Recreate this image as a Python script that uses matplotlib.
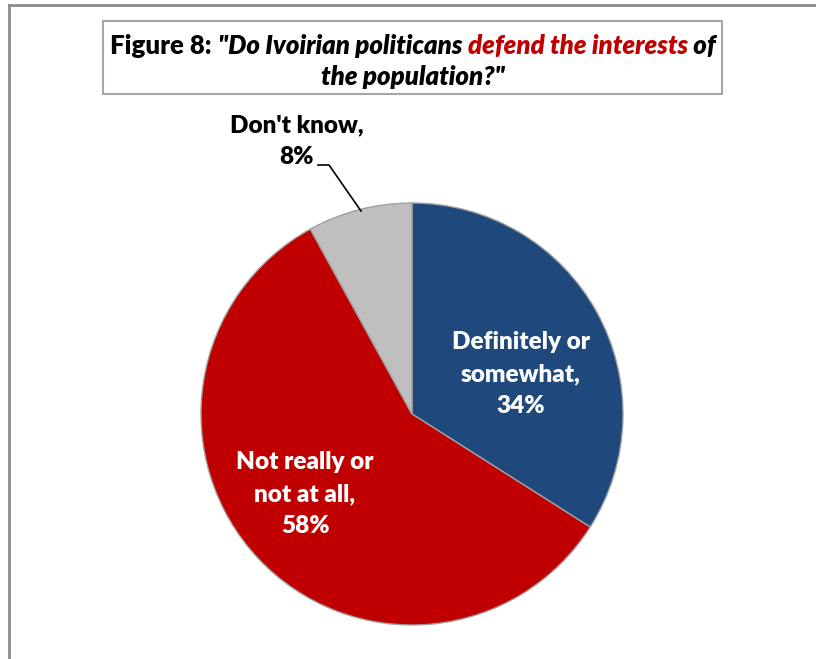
import matplotlib.pyplot as plt
from matplotlib.patches import Rectangle
from matplotlib.lines import Line2D

plt.rcParams['font.family'] = ['Lato', 'DejaVu Sans']

labels = ["Definitely or\nsomewhat,\n34%", "Not really or\nnot at all,\n58%", "Don't know,\n8%"]
values = [34, 58, 8]
colors = ['#1f497d', '#c00000', '#bfbfbf']

W, H = 816, 659
fig = plt.figure(figsize=(W / 100, H / 100), dpi=100)


def fx(px):
    return px / W


def fy(py):
    return 1 - py / H


# outer chart border (right and bottom edges run off the image)
fig.add_artist(Line2D([fx(9), fx(9)], [fy(5), 0], color='#8c8c8c', lw=2))
fig.add_artist(Line2D([fx(9), 1], [fy(5), fy(5)], color='#8c8c8c', lw=2))

# pie
cx, cy, r = 412, 414, 211
ax = fig.add_axes([fx(cx - r), fy(cy + r), 2 * r / W, 2 * r / H])
ax.pie(values, colors=colors, startangle=90, counterclock=False,
       wedgeprops=dict(edgecolor='#a0a0a0', linewidth=1))
ax.set_xlim(-1, 1)
ax.set_ylim(-1, 1)
ax.axis('off')

lab_style = dict(fontsize=17.5, fontweight='heavy', ha='center', va='center',
                 linespacing=1.55)
fig.text(fx(521), fy(374), labels[0], color='white', **lab_style)
fig.text(fx(305), fy(494), labels[1], color='white', **lab_style)
fig.text(fx(297), fy(141), labels[2], color='black', **lab_style)

# leader line for the small slice
fig.add_artist(Line2D([fx(318), fx(329), fx(361)], [fy(165), fy(165), fy(211)],
                      color='black', lw=1.2))

# title box
fig.add_artist(Rectangle((fx(103), fy(94)), fx(722 - 103), (94 - 21) / H,
                         transform=fig.transFigure, fill=False,
                         edgecolor='#a6a6a6', lw=1.5))

parts = [("Figure 8: ", 'normal', 'black'),
         ("\"Do Ivoirian politicans ", 'italic', 'black'),
         ("defend the interests", 'italic', '#c00000'),
         (" of", 'italic', 'black')]
renderer = fig.canvas.get_renderer()
texts = []
for s, style, c in parts:
    t = fig.text(0, fy(46), s, fontsize=18.5, fontweight='heavy', style=style,
                 color=c, va='center', ha='left')
    texts.append(t)
widths = [t.get_window_extent(renderer).width for t in texts]
x = 413 - sum(widths) / 2
for t, w in zip(texts, widths):
    t.set_x(fx(x))
    x += w
fig.text(fx(413), fy(77), "the population?\"", fontsize=18.5, fontweight='heavy',
         style='italic', ha='center', va='center')

fig.savefig('out.png', dpi=100)
